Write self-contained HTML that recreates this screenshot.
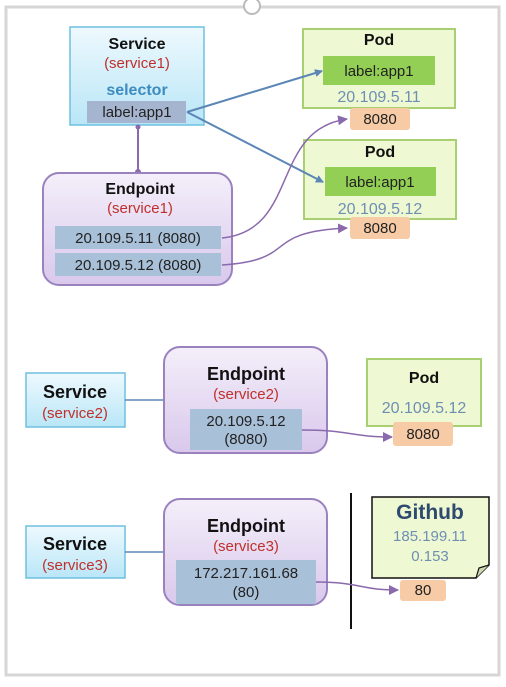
<!DOCTYPE html>
<html><head><meta charset="utf-8"><style>
body{margin:0;background:#fff;}
svg text{font-family:"Liberation Sans","Noto Sans CJK KR",sans-serif;text-anchor:middle;}
.b{font-weight:bold;fill:#111;}
.r{fill:#c0302a;}
.ip{fill:#6e8fb3;}
.k{fill:#222;}
</style></head><body>
<svg width="506" height="682" viewBox="0 0 506 682" xmlns="http://www.w3.org/2000/svg">
<defs>
<linearGradient id="gb" x1="0" y1="0" x2="0" y2="1"><stop offset="0" stop-color="#eef9fe"/><stop offset="1" stop-color="#b9e6f7"/></linearGradient>
<linearGradient id="gp" x1="0" y1="0" x2="0" y2="1"><stop offset="0" stop-color="#f4effa"/><stop offset="1" stop-color="#d9c8ec"/></linearGradient>
<marker id="ab" markerWidth="8" markerHeight="8" refX="7" refY="4" orient="auto" markerUnits="userSpaceOnUse"><path d="M0,0 L8,4 L0,8z" fill="#5b86b5"/></marker>
<marker id="ap" markerWidth="10" markerHeight="10" refX="9" refY="5" orient="auto" markerUnits="userSpaceOnUse"><path d="M0,0 L10,5 L0,10z" fill="#8a6aac"/></marker>
</defs>
<rect x="6" y="7" width="493" height="668" fill="#fff" stroke="#d6d6d6" stroke-width="3"/>
<circle cx="252" cy="6" r="8" fill="#fff" stroke="#bbb" stroke-width="2"/>

<!-- Service1 -->
<rect x="70" y="27" width="134" height="98" fill="url(#gb)" stroke="#6ec0df" stroke-width="1.5"/>
<text x="137" y="49" class="b" font-size="16">Service</text>
<text x="137" y="68" class="r" font-size="15">(service1)</text>
<text x="137" y="95" font-size="16" font-weight="bold" fill="#3d8cc0">selector</text>
<rect x="87" y="101" width="99" height="22" fill="#a6b5cf"/>
<text x="137" y="117" class="k" font-size="15">label:app1</text>

<line x1="138" y1="125" x2="138" y2="173" stroke="#8a6aac" stroke-width="2"/>
<circle cx="138" cy="127" r="2.5" fill="#8a6aac"/><circle cx="138" cy="172" r="3" fill="#8a6aac"/>

<!-- Endpoint1 -->
<rect x="43" y="173" width="189" height="112" rx="16" fill="url(#gp)" stroke="#9a82bf" stroke-width="2"/>
<text x="140" y="194" class="b" font-size="16">Endpoint</text>
<text x="140" y="213" class="r" font-size="15">(service1)</text>
<rect x="55" y="226" width="166" height="23" fill="#a9c0d9"/>
<text x="138" y="243" class="k" font-size="15">20.109.5.11 (8080)</text>
<rect x="55" y="253" width="166" height="23" fill="#a9c0d9"/>
<text x="138" y="270" class="k" font-size="15">20.109.5.12 (8080)</text>

<!-- Pods -->
<rect x="303" y="29" width="152" height="79" fill="#eef8d2" stroke="#a9cf73" stroke-width="2"/>
<text x="379" y="45" class="b" font-size="16">Pod</text>
<rect x="323" y="56" width="112" height="29" fill="#92cf54"/>
<text x="379" y="76" class="k" font-size="15">label:app1</text>
<text x="379" y="102" class="ip" font-size="16">20.109.5.11</text>
<rect x="350" y="108" width="60" height="22" rx="3" fill="#f6cba6"/>
<text x="380" y="124" class="k" font-size="15">8080</text>

<rect x="304" y="140" width="152" height="79" fill="#eef8d2" stroke="#a9cf73" stroke-width="2"/>
<text x="380" y="157" class="b" font-size="16">Pod</text>
<rect x="325" y="167" width="111" height="29" fill="#92cf54"/>
<text x="380" y="187" class="k" font-size="15">label:app1</text>
<text x="380" y="214" class="ip" font-size="16">20.109.5.12</text>
<rect x="350" y="217" width="60" height="22" rx="3" fill="#f6cba6"/>
<text x="380" y="233" class="k" font-size="15">8080</text>

<path d="M187,112 L322,71" stroke="#5b86b5" stroke-width="2" fill="none" marker-end="url(#ab)"/>
<path d="M187,112 L323,182" stroke="#5b86b5" stroke-width="2" fill="none" marker-end="url(#ab)"/>
<path d="M222,238 C300,230 270,130 347,119" stroke="#8a6aac" stroke-width="1.5" fill="none" marker-end="url(#ap)"/>
<path d="M222,265 C300,260 260,232 347,228" stroke="#8a6aac" stroke-width="1.5" fill="none" marker-end="url(#ap)"/>

<!-- Section 2 -->
<rect x="26" y="373" width="99" height="54" fill="url(#gb)" stroke="#6ec0df" stroke-width="1.5"/>
<text x="75" y="398" class="b" font-size="18">Service</text>
<text x="75" y="418" class="r" font-size="15">(service2)</text>
<line x1="125" y1="400" x2="164" y2="400" stroke="#5b86b5" stroke-width="1.5"/>
<rect x="164" y="347" width="163" height="106" rx="16" fill="url(#gp)" stroke="#9a82bf" stroke-width="2"/>
<text x="246" y="380" class="b" font-size="18">Endpoint</text>
<text x="246" y="399" class="r" font-size="15">(service2)</text>
<rect x="190" y="409" width="112" height="41" fill="#a9c0d9"/>
<text x="246" y="426" class="k" font-size="15">20.109.5.12</text>
<text x="246" y="444" class="k" font-size="15">(8080)</text>
<rect x="367" y="359" width="114" height="67" fill="#eef8d2" stroke="#a9cf73" stroke-width="2"/>
<text x="424" y="383" class="b" font-size="16">Pod</text>
<text x="424" y="413" class="ip" font-size="16">20.109.5.12</text>
<rect x="393" y="422" width="60" height="24" rx="3" fill="#f6cba6"/>
<text x="423" y="439" class="k" font-size="15">8080</text>
<path d="M302,430 C350,430 350,437 392,437" stroke="#8a6aac" stroke-width="1.5" fill="none" marker-end="url(#ap)"/>

<!-- Section 3 -->
<rect x="26" y="526" width="99" height="52" fill="url(#gb)" stroke="#6ec0df" stroke-width="1.5"/>
<text x="75" y="550" class="b" font-size="18">Service</text>
<text x="75" y="570" class="r" font-size="15">(service3)</text>
<line x1="125" y1="552" x2="164" y2="552" stroke="#5b86b5" stroke-width="1.5"/>
<rect x="164" y="499" width="163" height="106" rx="16" fill="url(#gp)" stroke="#9a82bf" stroke-width="2"/>
<text x="246" y="532" class="b" font-size="18">Endpoint</text>
<text x="246" y="551" class="r" font-size="15">(service3)</text>
<rect x="176" y="560" width="140" height="44" fill="#a9c0d9"/>
<text x="246" y="578" class="k" font-size="15">172.217.161.68</text>
<text x="246" y="597" class="k" font-size="15">(80)</text>
<line x1="351" y1="493" x2="351" y2="629" stroke="#111" stroke-width="2"/>
<path d="M372,497 L489,497 L489,565 L476,578 L372,578 Z" fill="#eef8d2" stroke="#111" stroke-width="1.5"/>
<path d="M476,578 L479,568 L489,565" fill="#cfd9b0" stroke="#111" stroke-width="1.2"/>
<text x="430" y="519" font-size="21" font-weight="bold" fill="#2e4a6e">Github</text>
<text x="430" y="541" class="ip" font-size="15">185.199.11</text>
<text x="430" y="561" class="ip" font-size="15">0.153</text>
<rect x="400" y="580" width="46" height="21" rx="3" fill="#f6cba6"/>
<text x="423" y="595" class="k" font-size="15">80</text>
<path d="M316,582 C360,582 360,590 398,590" stroke="#8a6aac" stroke-width="1.5" fill="none" marker-end="url(#ap)"/>
</svg>
</body></html>
